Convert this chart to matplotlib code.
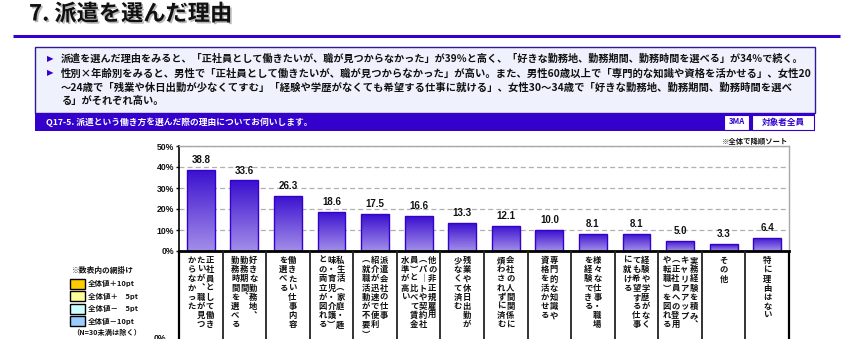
import numpy as np
import matplotlib
matplotlib.use("Agg")
import matplotlib.pyplot as plt
from matplotlib.patches import Rectangle
from matplotlib.colors import LinearSegmentedColormap
import matplotlib.patheffects as pe

plt.rcParams['font.family'] = ['Noto Sans CJK JP', 'DejaVu Sans']

# ---------------- data ----------------
title = "7. 派遣を選んだ理由"
summary_bullets = ["▶", "▶", "", ""]
summary_lines = [
    "派遣を選んだ理由をみると、「正社員として働きたいが、職が見つからなかった」が39％と高く、「好きな勤務地、勤務期間、勤務時間を選べる」が34％で続く。",
    "性別×年齢別をみると、男性で「正社員として働きたいが、職が見つからなかった」が高い。また、男性60歳以上で「専門的な知識や資格を活かせる」、女性20",
    "～24歳で「残業や休日出勤が少なくてすむ」「経験や学歴がなくても希望する仕事に就ける」、女性30～34歳で「好きな勤務地、勤務期間、勤務時間を選べ",
    "る」がそれぞれ高い。",
]
question = "Q17-5. 派遣という働き方を選んだ際の理由についてお伺いします。"
tag_ma = "3MA"
tag_target = "対象者全員"
sort_note = "※全体で降順ソート"

categories = [
    "正社員として働き\nたいが、職が見つ\nからなかった",
    "好きな勤務地、\n勤務期間、\n勤務時間を選べる",
    "働きたい仕事内容\nを選べる",
    "私生活（家庭・趣\n味・育児・介護）\nとの両立が図れる",
    "派遣会社の仕事\n紹介が迅速で便利\n（就職活動が不要）",
    "他の非正規雇用\n（パートや契約社\n員）と比べて賃金\n水準が高い",
    "残業や休日出勤が\n少なくて済む",
    "会社の人間関係に\n煩わされずに済む",
    "専門的な知識や\n資格を活かせる",
    "様々な仕事・職場\nを経験できる",
    "経験や学歴がなく\nても希望する仕事\nに就ける",
    "実務経験を積み、\nキャリアアップ\n（正社員への登用\nや転職）を図れる",
    "その他",
    "特に理由はない",
]
values = [38.8, 33.6, 26.3, 18.6, 17.5, 16.6, 13.3, 12.1, 10.0, 8.1, 8.1, 5.0, 3.3, 6.4]
yticks = [0, 10, 20, 30, 40, 50]
ytick_labels = ["0%", "10%", "20%", "30%", "40%", "50%"]

legend_title = "※数表内の網掛け"
legend_labels = ["全体値＋10pt", "全体値＋　5pt", "全体値－　5pt", "全体値－10pt"]
legend_colors = ["#ffcc00", "#ffff99", "#ccffff", "#99ccff"]
legend_note = "（N=30未満は除く）"

# ---------------- figure ----------------
W, H = 845, 339
fig = plt.figure(figsize=(W / 100, H / 100), dpi=100)
bg = fig.add_axes([0, 0, 1, 1])
bg.set_xlim(0, W)
bg.set_ylim(H, 0)
bg.axis('off')

BLUE = "#3300cc"

# title
bg.text(29, 14, title, fontsize=16, fontweight='bold', color='#111111', va='center', ha='left',
        path_effects=[pe.withSimplePatchShadow(offset=(1.2, -1.2), shadow_rgbFace='#888888', alpha=0.6)])
bg.plot([13, 840], [36, 36], color=BLUE, lw=2.2, solid_capstyle='butt')

# summary box
bg.add_patch(Rectangle((35, 47), 780, 66, facecolor="#eff1fd", edgecolor="#2b1b9a", lw=1))
line_y = [59, 73, 87.5, 101]
targets = [798, 807, 788, None]
renderer = fig.canvas.get_renderer()
fs_used = []
for b, txt, yy, tgt in zip(summary_bullets, summary_lines, line_y, targets):
    if b:
        bg.text(47, yy, b, fontsize=6, color=BLUE, va='center', ha='left', family=['DejaVu Sans'])
    t = bg.text(61, yy, txt, fontsize=7.4, fontweight='bold', color='#111111', va='center', ha='left')
    if tgt is not None:
        ext = t.get_window_extent(renderer)
        fs = 7.4 * (tgt - 61) / ext.width
        t.set_fontsize(fs)
        fs_used.append(fs)
    else:
        t.set_fontsize(np.mean(fs_used))

# question bar
bg.add_patch(Rectangle((35, 113), 780, 18, facecolor=BLUE, edgecolor='none'))
bg.text(46, 122.5, question, fontsize=6.3, fontweight='bold', color='white', va='center', ha='left')
bg.add_patch(Rectangle((724, 114.5), 25, 15, facecolor='white', edgecolor=BLUE, lw=0.8))
bg.text(736.5, 122, tag_ma, fontsize=5.6, fontweight='bold', color=BLUE, va='center', ha='center')
bg.add_patch(Rectangle((752, 114.5), 62, 15, facecolor='white', edgecolor=BLUE, lw=0.8))
bg.text(783, 122, tag_target, fontsize=6.2, fontweight='bold', color=BLUE, va='center', ha='center')

bg.text(788, 141, sort_note, fontsize=5.3, fontweight='bold', color='#111111', va='center', ha='right')

# legend on the left
bg.text(72, 270, legend_title, fontsize=5.6, fontweight='bold', color='#111111', va='center', ha='left')
for k, (lab, col) in enumerate(zip(legend_labels, legend_colors)):
    y0 = 278.5 + k * 12.5
    bg.add_patch(Rectangle((70, y0), 15, 10, facecolor=col, edgecolor='black', lw=1))
    bg.text(88, y0 + 5, lab, fontsize=5.4, fontweight='bold', color='#111111', va='center', ha='left')
bg.text(72, 332, legend_note, fontsize=5.2, fontweight='bold', color='#111111', va='center', ha='left')
bg.text(160, 334, "0%", fontsize=6.2, fontweight='bold', color='#111111', va='top', ha='center',
        family=['Liberation Sans'])

# ---------------- chart ----------------
ax = fig.add_axes([179 / W, (H - 251) / H, 610 / W, 105 / H])
ax.patch.set_alpha(0)
x = np.arange(len(values))
cmap = LinearSegmentedColormap.from_list("g", ["#a28ee9", "#6f4fdc", "#3a0fcf"])
bars = ax.bar(x, values, width=0.64, facecolor='none', edgecolor=BLUE, lw=1, zorder=3)
grad = np.linspace(0, 1, 256).reshape(-1, 1)
for b in bars:
    x0, y0, w, h = b.get_x(), b.get_y(), b.get_width(), b.get_height()
    im = ax.imshow(grad, extent=[x0, x0 + w, y0, y0 + h], origin='lower', cmap=cmap,
                   aspect='auto', zorder=2, interpolation='bilinear')
    im.set_clip_path(b)
ax.set_xlim(-0.5, len(values) - 0.5)
ax.set_ylim(0, 50)

for xi, v in zip(x, values):
    ax.annotate(f"{v:.1f}", (xi, v), xytext=(0, 3.5), textcoords='offset points',
                ha='center', va='bottom', fontsize=7, fontweight='bold', color='#111111',
                family=['Liberation Sans'])

ax.set_yticks(yticks)
ax.set_yticklabels(ytick_labels, fontsize=6.2, fontweight='bold', family=['Liberation Sans'])
ax.set_xticks([])
ax.tick_params(axis='y', direction='out', length=2.5, width=1, pad=1, colors='#111111')
ax.yaxis.grid(True, color='#b0b0b0', ls=(0, (4, 2.5)), lw=0.9)
ax.set_axisbelow(True)
ax.spines['left'].set_color('black')
ax.spines['left'].set_linewidth(1.2)
ax.spines['bottom'].set_color('black')
ax.spines['bottom'].set_linewidth(2)
ax.spines['bottom'].set_zorder(5)
for s in ('top', 'right'):
    ax.spines[s].set_color('#a8a8a8')
    ax.spines[s].set_linewidth(1)

# ---------------- label table ----------------
tx = fig.add_axes([179 / W, 0, 610 / W, 88 / H])
tx.set_xlim(-0.5, len(values) - 0.5)
tx.set_ylim(88, 0)
tx.axis('off')
tx.vlines(np.arange(0.5, len(values) - 0.5, 1), 0, 88, colors='#222222', lw=1.3)
tx.vlines([-0.5, len(values) - 0.5], 0, 88, colors='black', lw=1.6, clip_on=False)

vmap = {'（': '︵', '）': '︶', '、': '︑', 'ー': '｜'}
col_pitch = 9 / (610 / len(values))
for i, lab in enumerate(categories):
    cols = lab.split('\n')
    n = len(cols)
    for j, col in enumerate(cols):
        cx = i + ((n - 1) / 2 - j) * col_pitch
        for k, ch in enumerate(col):
            tx.text(cx, 9.5 + k * 9.2, vmap.get(ch, ch), ha='center', va='center',
                    fontsize=6, fontweight='bold', color='#111111')

fig.savefig("out.png", dpi=100, facecolor='white')
